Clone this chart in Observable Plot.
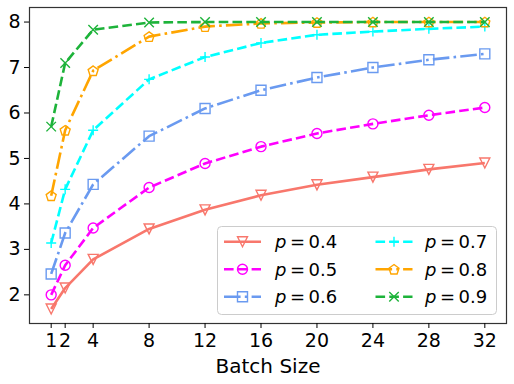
<!DOCTYPE html>
<html>
<head>
<meta charset="utf-8">
<script src="https://cdn.jsdelivr.net/npm/d3@7"></script>
<script src="https://cdn.jsdelivr.net/npm/@observablehq/plot@0.6"></script>
<style>
  html, body { margin: 0; padding: 0; background: white; }
  #chart { width: 514px; height: 384px; }
</style>
</head>
<body>
<div id="chart"></div>
<script>
// ---- data ----
const batchSizes = [1, 2, 4, 8, 12, 16, 20, 24, 28, 32];
const xTicks = [1, 2, 4, 8, 12, 16, 20, 24, 28, 32];
const yTicks = [2, 3, 4, 5, 6, 7, 8];
const seriesLabels = ["0.4", "0.5", "0.6", "0.7", "0.8", "0.9"];
const p04 = [1.69, 2.15, 2.78, 3.45, 3.87, 4.19, 4.42, 4.59, 4.76, 4.90];
const p05 = [2.00, 2.65, 3.47, 4.36, 4.89, 5.26, 5.55, 5.76, 5.95, 6.12];
const p06 = [2.46, 3.36, 4.43, 5.49, 6.10, 6.50, 6.78, 7.00, 7.17, 7.30];
const p07 = [3.14, 4.32, 5.62, 6.74, 7.23, 7.54, 7.72, 7.79, 7.85, 7.90];
const p08 = [4.18, 5.62, 6.93, 7.68, 7.90, 7.97, 7.99, 8.00, 8.00, 8.00];
const p09 = [5.70, 7.10, 7.83, 7.99, 8.00, 8.00, 8.00, 8.00, 8.00, 8.00];
const seriesValues = [p04, p05, p06, p07, p08, p09];

// ---- styles ----
const colors = ["#f8776c", "#ff00ff", "#6a9af0", "#00ffff", "#ffa500", "#1db33a"];
const DASH = "9.6,4.2";
const DASHDOT = "16.6,4.2,2.6,4.2";
const dashes = [null, DASH, DASHDOT, DASH, DASHDOT, DASH];

function rad(size) { return Math.sqrt(size / Math.PI); }
const triDown = { draw(c, s) { const r = rad(s); c.moveTo(0, r); c.lineTo(-r, -r); c.lineTo(r, -r); c.closePath(); } };
const circ = { draw(c, s) { const r = rad(s); c.moveTo(r, 0); c.arc(0, 0, r, 0, 2 * Math.PI); c.closePath(); } };
const sq = { draw(c, s) { const r = rad(s); c.moveTo(-r, -r); c.lineTo(r, -r); c.lineTo(r, r); c.lineTo(-r, r); c.closePath(); } };
const plus = { draw(c, s) { const r = rad(s); c.moveTo(-r, 0); c.lineTo(r, 0); c.moveTo(0, -r); c.lineTo(0, r); } };
const pent = { draw(c, s) { const r = rad(s) * 1.05; for (let i = 0; i < 5; i++) { const a = -Math.PI / 2 + i * 2 * Math.PI / 5; const px = r * Math.cos(a), py = r * Math.sin(a) + 0.5; if (i === 0) c.moveTo(px, py); else c.lineTo(px, py); } c.closePath(); } };
const cross = { draw(c, s) { const r = rad(s) * 0.95; c.moveTo(-r, -r); c.lineTo(r, r); c.moveTo(-r, r); c.lineTo(r, -r); } };
const symbols = [triDown, circ, sq, plus, pent, cross];

const FONT = "DejaVu Sans";
const marks = [];
seriesValues.forEach((vals, i) => {
  const rows = batchSizes.map((b, j) => ({ x: b, y: vals[j] }));
  marks.push(Plot.line(rows, { x: "x", y: "y", stroke: colors[i], strokeWidth: 2.6, strokeDasharray: dashes[i] || undefined, strokeLinecap: "butt" }));
  marks.push(Plot.dot(rows, { x: "x", y: "y", stroke: colors[i], fill: "none", symbol: symbols[i], r: 5, strokeWidth: 1.4 }));
});

const chart = Plot.plot({
  width: 514,
  height: 384,
  marginLeft: 29,
  marginRight: 8,
  marginTop: 7,
  marginBottom: 61,
  style: { fontFamily: FONT, background: "white", color: "black" },
  x: { type: "linear", domain: [-0.55, 33.55] },
  y: { domain: [1.37, 8.32] },
  marks: [
    ...marks,
    Plot.frame({ stroke: "#333", strokeWidth: 1.2 }),
    Plot.axisX({ ticks: xTicks, tickSize: 5, tickPadding: 5, fontSize: 19, label: null, tickFormat: d => String(d) }),
    Plot.axisY({ ticks: yTicks, tickSize: 5, tickPadding: 4, fontSize: 19, label: null, tickFormat: d => String(d) }),
    Plot.text(["Batch Size"], { frameAnchor: "bottom", dy: 35, lineAnchor: "top", fontSize: 20, text: d => d, fill: "black" })
  ]
});
document.getElementById("chart").appendChild(chart);

// ---- legend (inside plot, bottom right) ----
const svg = d3.select(chart);
const lg = svg.append("g").attr("font-family", FONT).attr("text-anchor", "start");
lg.append("rect").attr("x", 217.5).attr("y", 226.5).attr("width", 279).attr("height", 88)
  .attr("rx", 4).attr("fill", "white").attr("fill-opacity", 0.8).attr("stroke", "#cccccc").attr("stroke-width", 1);
const colX = [224, 375.5];
const textX = [275, 425];
const rowY = [241.7, 269.3, 296.7];
seriesLabels.forEach((lab, i) => {
  const col = Math.floor(i / 3), row = i % 3;
  const x0 = colX[col], y0 = rowY[row];
  const ln = lg.append("line").attr("x1", x0).attr("x2", x0 + 37).attr("y1", y0).attr("y2", y0)
    .attr("stroke", colors[i]).attr("stroke-width", 2.6);
  if (dashes[i]) ln.attr("stroke-dasharray", dashes[i]);
  const p = d3.path();
  symbols[i].draw(p, 25 * Math.PI);
  lg.append("path").attr("d", p.toString()).attr("transform", `translate(${x0 + 18.5},${y0})`)
    .attr("fill", "none").attr("stroke", colors[i]).attr("stroke-width", 1.4);
  const t = lg.append("text").attr("x", textX[col]).attr("y", y0 + 6.5).attr("font-size", 18).attr("fill", "black");
  t.append("tspan").attr("font-style", "italic").text("p");
  t.append("tspan").attr("dx", 3.5).text("=");
  t.append("tspan").attr("dx", 3.5).text(lab);
});
</script>
</body>
</html>
